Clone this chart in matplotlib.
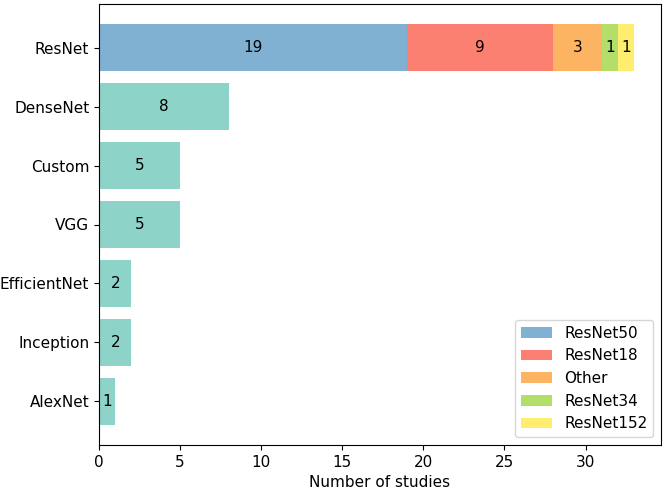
import numpy as np
import matplotlib.pyplot as plt

# architecture counts (top to bottom)
models = ["ResNet", "DenseNet", "Custom", "VGG", "EfficientNet", "Inception", "AlexNet"]
counts = [33, 8, 5, 5, 2, 2, 1]

# ResNet breakdown
resnet_variants = ["ResNet50", "ResNet18", "Other", "ResNet34", "ResNet152"]
resnet_counts = [19, 9, 3, 1, 1]
variant_colors = ["#80b1d3", "#fb8072", "#fdb462", "#b3de69", "#ffed6f"]
base_color = "#8dd3c7"

fig = plt.figure(figsize=(6.66, 4.93), dpi=100)
ax = fig.add_axes([99 / 666, 48 / 493, 562 / 666, 441 / 493])
y = np.arange(len(models))[::-1]

# stacked ResNet bar
left = 0
for name, val, col in zip(resnet_variants, resnet_counts, variant_colors):
    bar = ax.barh(y[0], val, left=left, color=col, label=name)
    ax.bar_label(bar, labels=[str(val)], label_type="center", fontsize=11)
    left += val

# remaining architectures
for yi, name, val in zip(y[1:], models[1:], counts[1:]):
    bar = ax.barh(yi, val, color=base_color)
    ax.bar_label(bar, labels=[str(val)], label_type="center", fontsize=11)

ax.set_yticks(y)
ax.set_yticklabels(models, fontsize=11)
ax.tick_params(axis="x", labelsize=11)
ax.set_xlabel("Number of studies", fontsize=11)
ax.legend(loc="lower right", fontsize=11)
plt.savefig("out.png", dpi=100)
